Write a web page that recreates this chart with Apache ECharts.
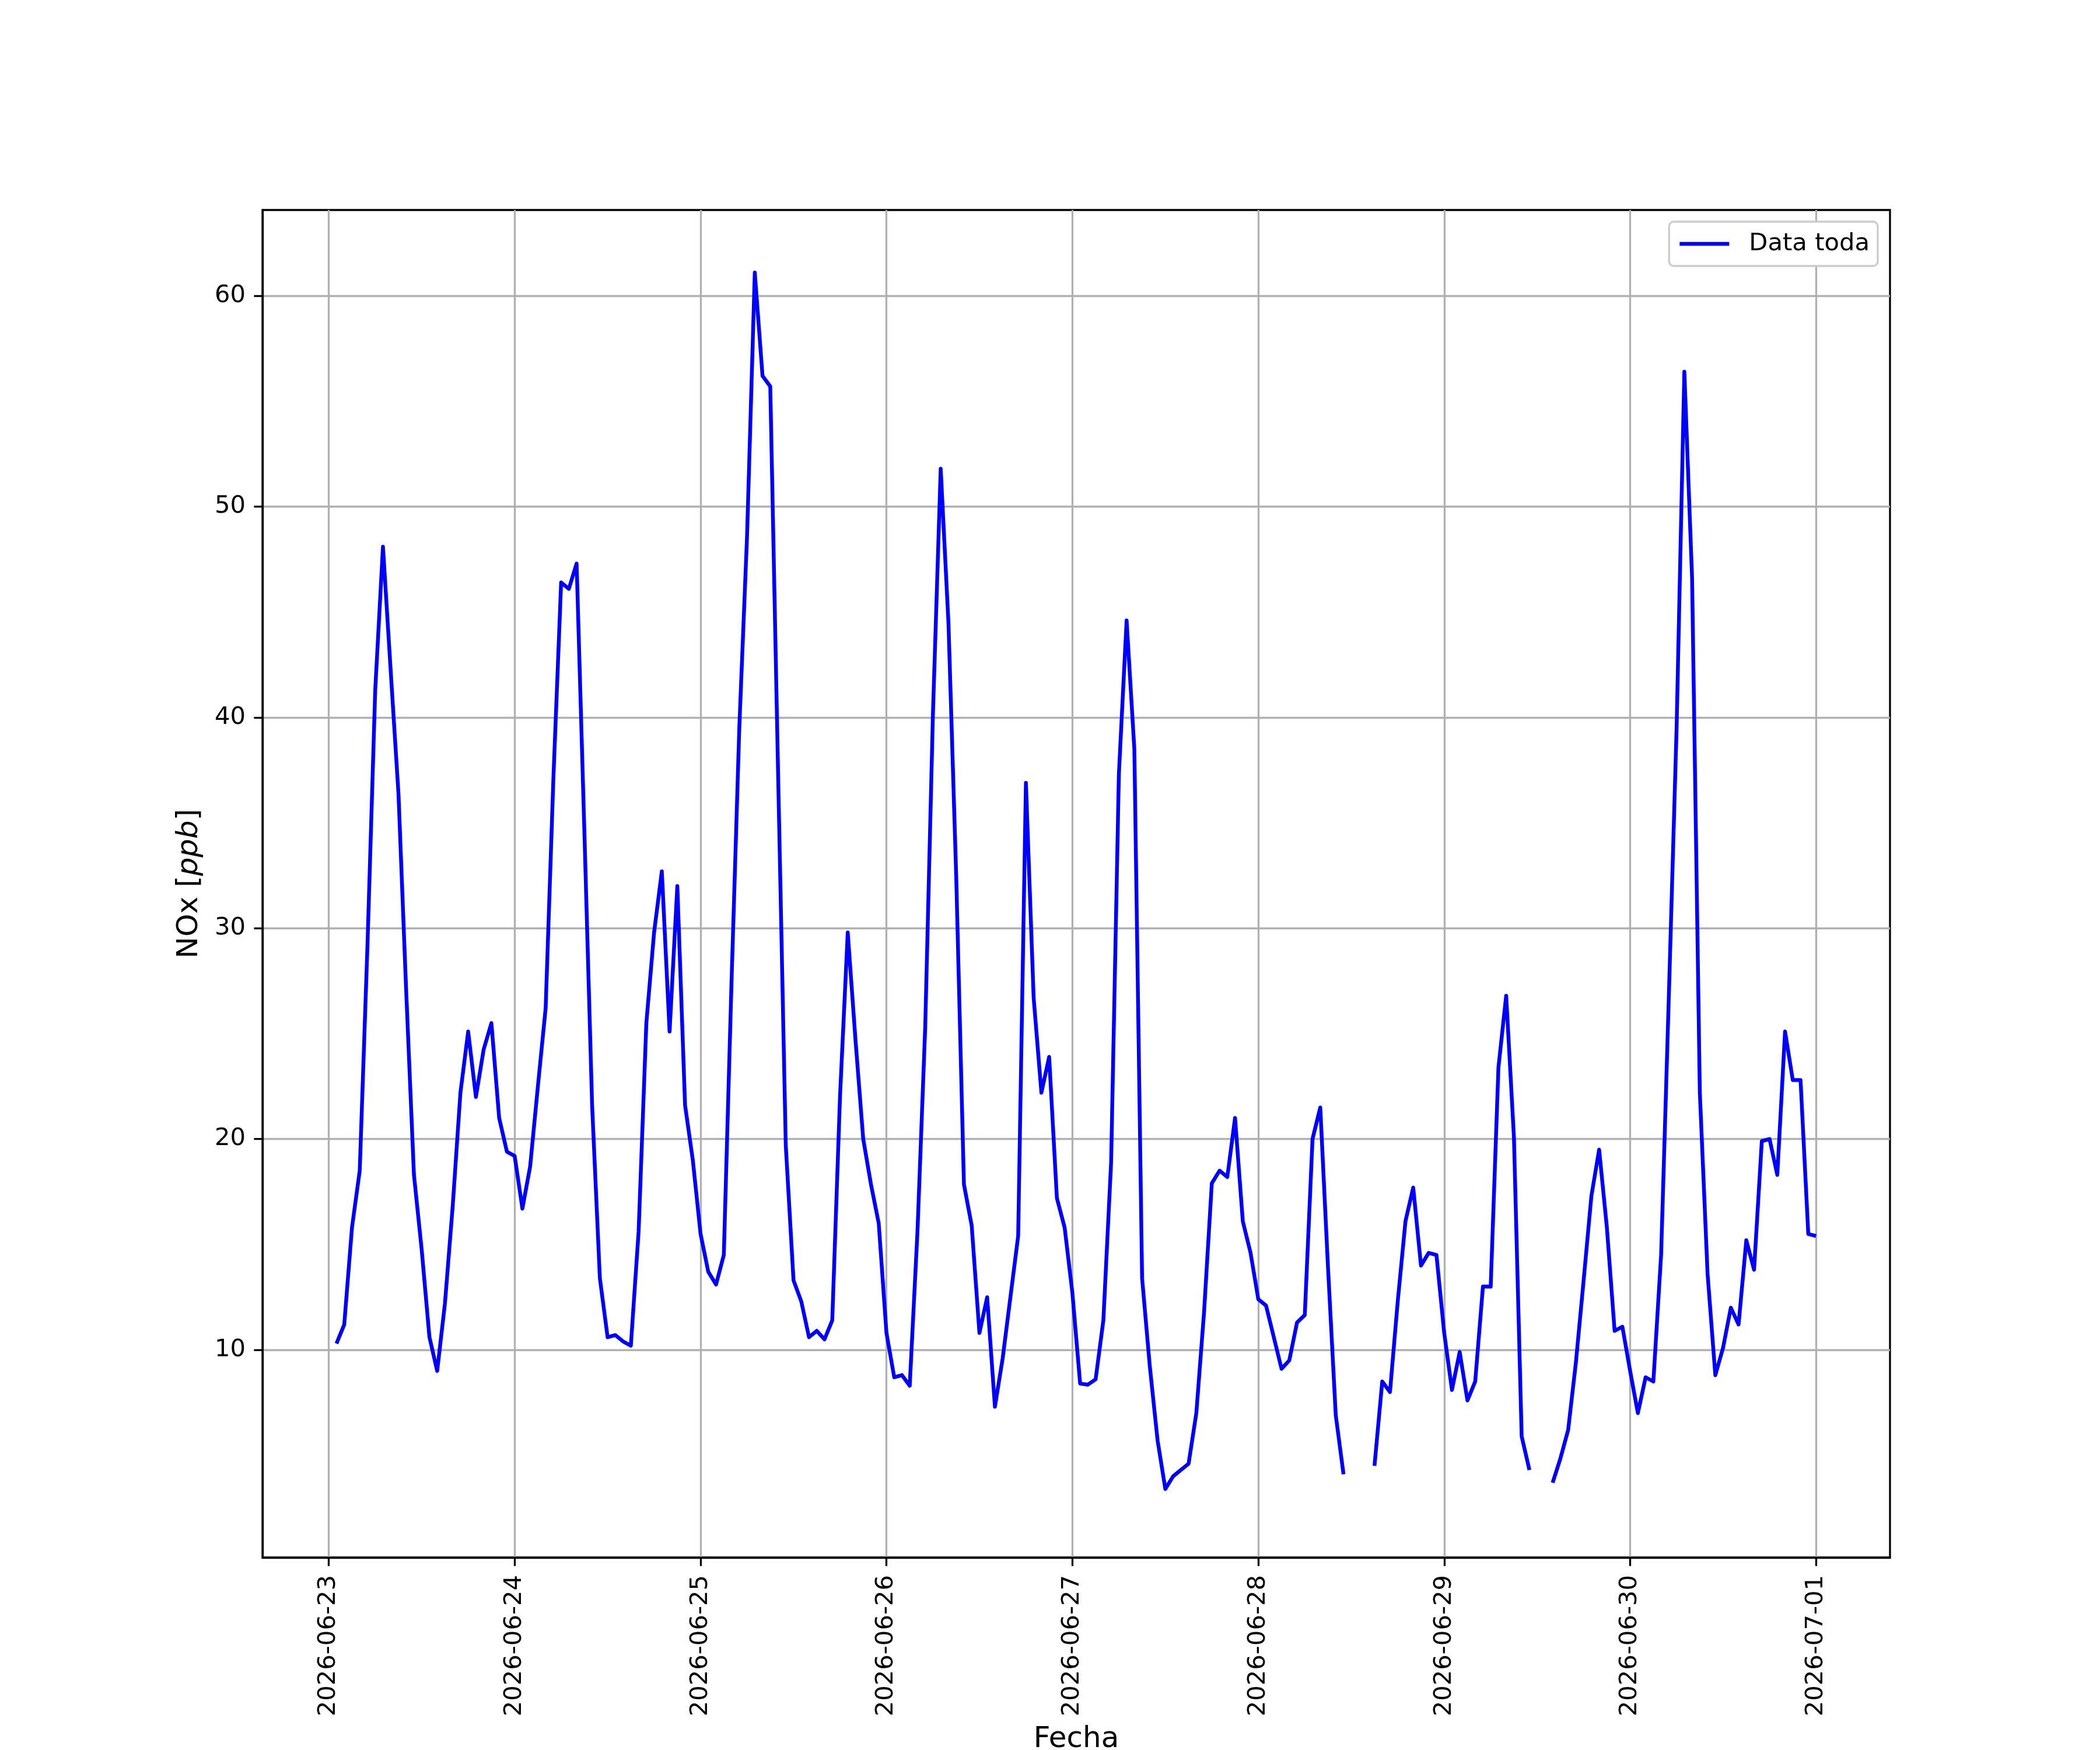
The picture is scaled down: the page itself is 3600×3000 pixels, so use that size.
<!DOCTYPE html>
<html>
<head>
<meta charset="utf-8">
<script src="https://cdn.jsdelivr.net/npm/echarts@6/dist/echarts.min.js"></script>
<style>
html,body{margin:0;padding:0;background:#fff;}
#chart{width:3600px;height:3000px;}
</style>
</head>
<body>
<div id="chart"></div>
<script>
// Hourly NOx values (ppb); first value is 2026-06-23 01:00, null = missing
const d0623 = [10.3, 11.2, 15.8, 18.5, 29.2, 41.3, 48.1, 42.2, 36.4, 27.0, 18.3, 14.75, 10.6, 9.0, 12.2, 16.8, 22.2, 25.1, 22.0, 24.25, 25.5, 21.0, 19.4];
const d0624 = [19.2, 16.7, 18.7, 22.5, 26.2, 37.1, 46.4, 46.1, 47.3, 34.6, 21.6, 13.4, 10.6, 10.7, 10.4, 10.2, 15.6, 25.5, 29.8, 32.7, 25.1, 32.0, 21.6, 19.0];
const d0625 = [15.5, 13.7, 13.1, 14.5, 27.5, 39.5, 48.6, 61.1, 56.2, 55.7, 37.5, 19.7, 13.3, 12.3, 10.6, 10.9, 10.5, 11.4, 22.0, 29.8, 24.7, 20.0, 17.85, 16.0];
const d0626 = [10.8, 8.7, 8.8, 8.3, 15.6, 25.3, 40.2, 51.8, 44.5, 32.5, 17.85, 15.9, 10.8, 12.5, 7.3, 9.6, 12.5, 15.4, 36.9, 26.7, 22.2, 23.9, 17.2, 15.8];
const d0627 = [12.7, 8.4, 8.35, 8.6, 11.4, 18.9, 37.3, 44.6, 38.5, 13.4, 9.2, 5.7, 3.4, 4.0, 4.3, 4.6, 7.0, 11.8, 17.9, 18.5, 18.2, 21.0, 16.1, 14.6];
const d0628 = [12.4, 12.1, 10.6, 9.1, 9.5, 11.3, 11.65, 20.0, 21.5, 13.9, 6.9, 4.1, null, null, null, 4.5, 8.5, 8.0, 12.3, 16.1, 17.7, 14.0, 14.6, 14.5];
const d0629 = [10.8, 8.1, 9.9, 7.6, 8.5, 13.0, 13.0, 23.4, 26.8, 20.1, 5.9, 4.3, null, null, 3.7, 4.85, 6.2, 9.4, 13.3, 17.3, 19.5, 15.8, 10.9, 11.1];
const d0630 = [9.0, 7.0, 8.7, 8.5, 14.5, 26.8, 39.5, 56.4, 46.6, 22.2, 13.6, 8.8, 10.1, 12.0, 11.2, 15.2, 13.8, 19.9, 20.0, 18.3, 25.1, 22.8, 22.8, 15.5];
const d0701 = [15.4];

const nox = [].concat(d0623, d0624, d0625, d0626, d0627, d0628, d0629, d0630, d0701);
// hours since 2026-06-23 00:00 for each sample (hourly series starting 01:00)
const firstHour = 1;

const xTickHours = [0, 24, 48, 72, 96, 120, 144, 168, 192];
const xTickLabels = ['2026-06-23', '2026-06-24', '2026-06-25', '2026-06-26', '2026-06-27', '2026-06-28', '2026-06-29', '2026-06-30', '2026-07-01'];
const yTicks = [10, 20, 30, 40, 50, 60];

const seriesData = nox.map((v, i) => [firstHour + i, v]);

const FONT = 'DejaVu Sans';
const chart = echarts.init(document.getElementById('chart'), null, {renderer: 'canvas'});
chart.setOption({
  animation: false,
  backgroundColor: '#ffffff',
  grid: {
    left: 450, right: 360, top: 360, bottom: 330,
    outerBoundsMode: 'none',
    containLabel: false,
    show: true, borderColor: '#000', borderWidth: 3.3, backgroundColor: 'transparent'
  },
  legend: {
    data: ['Data toda'],
    right: 381, top: 380,
    icon: 'rect',
    itemWidth: 85, itemHeight: 6.5,
    padding: [14, 14, 14, 18],
    backgroundColor: '#ffffff',
    borderColor: '#cccccc', borderWidth: 3.3, borderRadius: 8,
    itemStyle: {color: '#0000ff', borderWidth: 0},
    textStyle: {fontFamily: FONT, fontSize: 41.7, color: '#000', padding: [0, 0, 0, 29], lineHeight: 48}
  },
  xAxis: {
    type: 'value',
    min: -8.55, max: 201.55,
    name: 'Fecha',
    nameLocation: 'middle',
    nameGap: 287,
    nameTextStyle: {fontFamily: FONT, fontSize: 50, color: '#000'},
    axisLine: {show: true, onZero: false, lineStyle: {color: '#000', width: 3.3}},
    axisTick: {show: true, length: 14.6, lineStyle: {color: '#000', width: 3.3}, customValues: xTickHours},
    axisLabel: {
      show: true, rotate: 90, margin: 30,
      fontFamily: FONT, fontSize: 41.7, color: '#000',
      customValues: xTickHours,
      formatter: v => xTickLabels[xTickHours.indexOf(v)]
    },
    splitLine: {show: true, lineStyle: {color: '#b0b0b0', width: 3.3}}
  },
  yAxis: {
    type: 'value',
    min: 0.15, max: 64.07,
    name: 'NOx [{i|ppb}]',
    nameLocation: 'middle',
    nameGap: 100,
    nameRotate: 90,
    nameTextStyle: {fontFamily: FONT, fontSize: 50, color: '#000',
      rich: {i: {fontFamily: FONT, fontSize: 50, fontStyle: 'italic', color: '#000'}}},
    axisLine: {show: true, onZero: false, lineStyle: {color: '#000', width: 3.3}},
    axisTick: {show: true, length: 14.6, lineStyle: {color: '#000', width: 3.3}, customValues: yTicks},
    axisLabel: {show: true, margin: 29, fontFamily: FONT, fontSize: 41.7, color: '#000', customValues: yTicks},
    splitLine: {show: true, lineStyle: {color: '#b0b0b0', width: 3.3}}
  },
  series: [{
    name: 'Data toda',
    type: 'line',
    data: seriesData,
    symbol: 'none',
    showSymbol: false,
    connectNulls: false,
    lineStyle: {color: '#0000ff', width: 6.5, join: 'round'},
    itemStyle: {color: '#0000ff'},
    emphasis: {disabled: true}
  }]
});
</script>
</body>
</html>
